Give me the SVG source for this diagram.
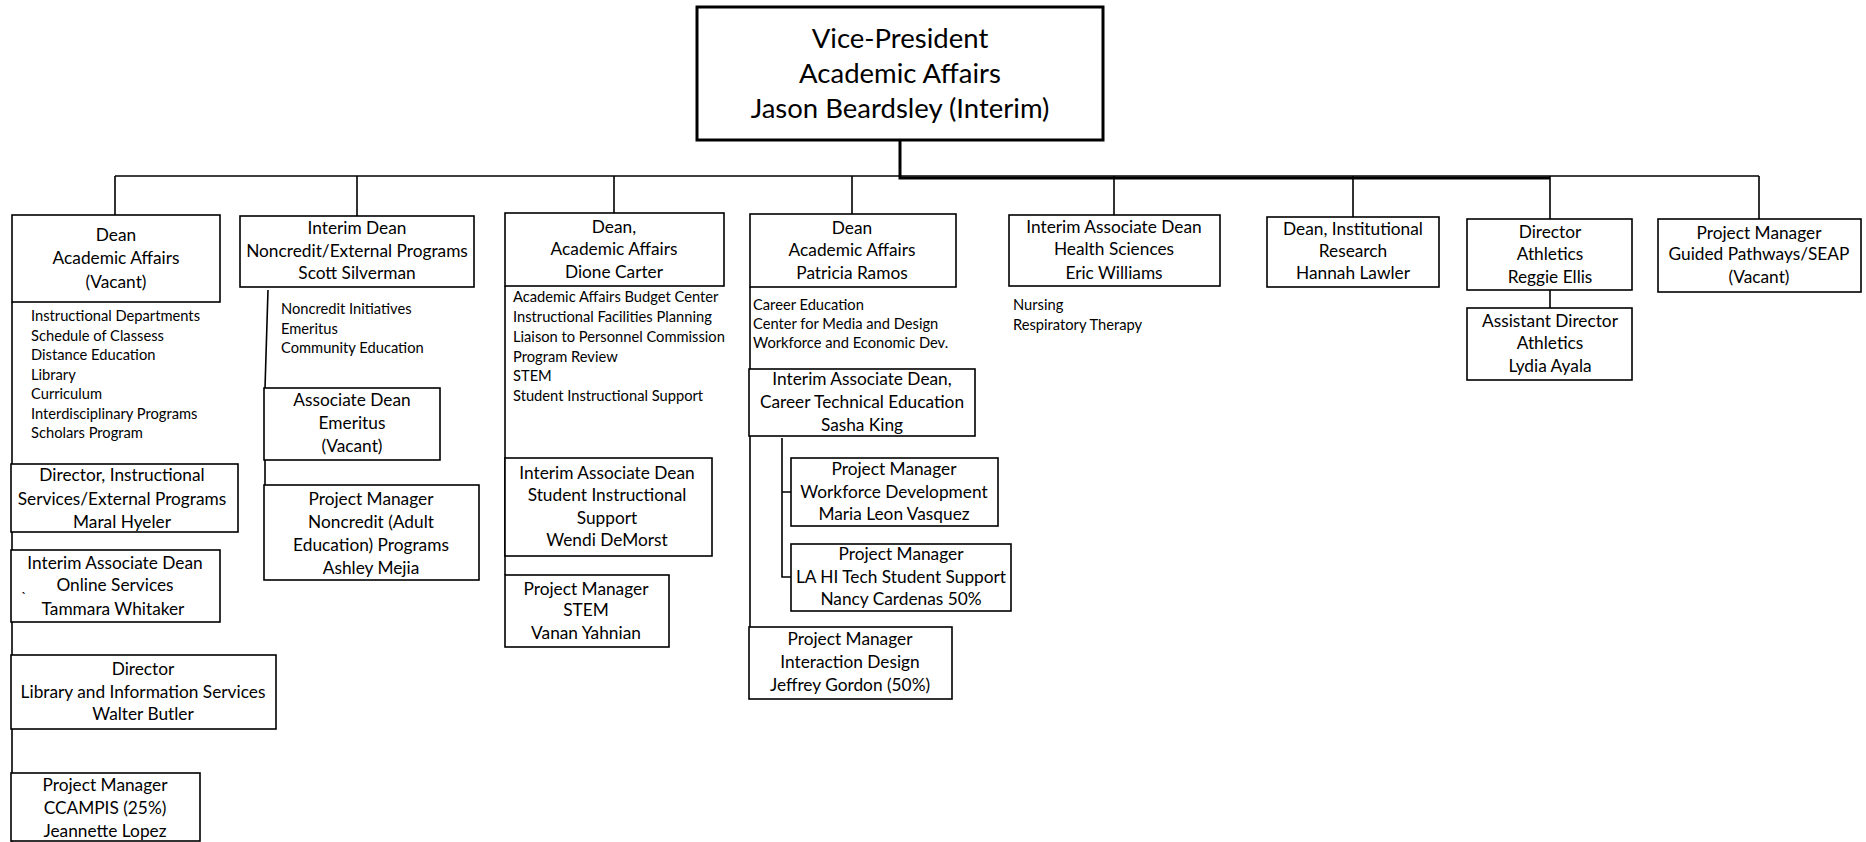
<svg xmlns="http://www.w3.org/2000/svg" width="1866" height="842" viewBox="0 0 1866 842">
<style>
.bx{fill:#fff;stroke:#000;stroke-width:1.6}
.vp{fill:#fff;stroke:#000;stroke-width:3}
.ln{stroke:#000;stroke-width:1.6;fill:none}
.tk{stroke:#000;stroke-width:3;fill:none}
text{font-family:Lato,"Open Sans","Liberation Sans",sans-serif;fill:#000}
.t{font-size:17.3px;text-anchor:middle}
.v{font-size:27.5px;text-anchor:middle}
.b{font-size:14.7px;text-anchor:start}
</style>
<rect width="1866" height="842" fill="#fff"/>
<g id="connectors">
<path class="ln" d="M115,176H1759"/>
<path class="tk" d="M900,140V178H1550"/>
<path class="ln" d="M115,176V215M357,176V216M614,176V213M852,176V214M1114,176V215M1353,176V217M1550,176V219M1759,176V219"/>
<path class="ln" d="M12,302V842"/>
<path class="ln" d="M268,290L265,388V485"/>
<path class="ln" d="M505,286V575"/>
<path class="ln" d="M750,287V627"/>
<path class="ln" d="M782,438V577H791M782,492H791"/>
<path class="ln" d="M1550,290V308"/>
</g>
<g id="vp"><rect class="vp" x="697" y="7" width="406" height="133"/>
<text class="v" x="900" y="48">Vice-President</text><text class="v" x="900" y="83">Academic Affairs</text><text class="v" x="900" y="118">Jason Beardsley (Interim)</text></g>
<g id="dean-aa-vacant"><rect class="bx" x="12" y="215" width="208" height="87"/>
<text class="t" x="116" y="241">Dean</text><text class="t" x="116" y="264">Academic Affairs</text><text class="t" x="116" y="287.5">(Vacant)</text>
<text class="b" x="31" y="321">Instructional Departments</text><text class="b" x="31" y="341">Schedule of Classess</text><text class="b" x="31" y="360">Distance Education</text><text class="b" x="31" y="380">Library</text><text class="b" x="31" y="399">Curriculum</text><text class="b" x="31" y="419">Interdisciplinary Programs</text><text class="b" x="31" y="438">Scholars Program</text></g>
<g id="dir-instructional"><rect class="bx" x="11" y="464" width="227" height="68"/>
<text class="t" x="122" y="481">Director, Instructional</text><text class="t" x="122" y="504.5">Services/External Programs</text><text class="t" x="122" y="527.5">Maral Hyeler</text></g>
<g id="online"><rect class="bx" x="11" y="550" width="209" height="72"/>
<text class="t" x="115" y="569">Interim Associate Dean</text><text class="t" x="115" y="591">Online Services</text><text class="t" x="113" y="614.5">Tammara Whitaker</text><text class="b" x="21" y="603">`</text></g>
<g id="library"><rect class="bx" x="11" y="655" width="265" height="74"/>
<text class="t" x="143" y="675">Director</text><text class="t" x="143" y="698">Library and Information Services</text><text class="t" x="143" y="720">Walter Butler</text></g>
<g id="ccampis"><rect class="bx" x="11" y="773" width="189" height="68"/>
<text class="t" x="105" y="791">Project Manager</text><text class="t" x="105" y="814">CCAMPIS (25%)</text><text class="t" x="105" y="837">Jeannette Lopez</text></g>
<g id="noncredit"><rect class="bx" x="240" y="216" width="234" height="71"/>
<text class="t" x="357" y="234">Interim Dean</text><text class="t" x="357" y="257">Noncredit/External Programs</text><text class="t" x="357" y="279">Scott Silverman</text>
<text class="b" x="281" y="314">Noncredit Initiatives</text><text class="b" x="281" y="334">Emeritus</text><text class="b" x="281" y="353">Community Education</text></g>
<g id="assoc-emeritus"><rect class="bx" x="264" y="388" width="176" height="72"/>
<text class="t" x="352" y="406">Associate Dean</text><text class="t" x="352" y="429">Emeritus</text><text class="t" x="352" y="452">(Vacant)</text></g>
<g id="pm-noncredit"><rect class="bx" x="264" y="485" width="215" height="95"/>
<text class="t" x="371" y="504.5">Project Manager</text><text class="t" x="371" y="527.5">Noncredit (Adult</text><text class="t" x="371" y="550.5">Education) Programs</text><text class="t" x="371" y="573.5">Ashley Mejia</text></g>
<g id="dione"><rect class="bx" x="505" y="213" width="219" height="73"/>
<text class="t" x="614" y="233">Dean,</text><text class="t" x="614" y="255">Academic Affairs</text><text class="t" x="614" y="278">Dione Carter</text>
<text class="b" x="513" y="302">Academic Affairs Budget Center</text><text class="b" x="513" y="322">Instructional Facilities Planning</text><text class="b" x="513" y="342">Liaison to Personnel Commission</text><text class="b" x="513" y="362">Program Review</text><text class="b" x="513" y="381">STEM</text><text class="b" x="513" y="401">Student Instructional Support</text></g>
<g id="sis"><rect class="bx" x="505" y="458" width="207" height="98"/>
<text class="t" x="607" y="479">Interim Associate Dean</text><text class="t" x="607" y="501">Student Instructional</text><text class="t" x="607" y="524">Support</text><text class="t" x="607" y="546">Wendi DeMorst</text></g>
<g id="pm-stem"><rect class="bx" x="505" y="575" width="164" height="72"/>
<text class="t" x="586" y="595">Project Manager</text><text class="t" x="586" y="616">STEM</text><text class="t" x="586" y="639">Vanan Yahnian</text></g>
<g id="patricia"><rect class="bx" x="750" y="214" width="206" height="73"/>
<text class="t" x="852" y="234">Dean</text><text class="t" x="852" y="256">Academic Affairs</text><text class="t" x="852" y="279">Patricia Ramos</text>
<text class="b" x="753" y="310">Career Education</text><text class="b" x="753" y="329">Center for Media and Design</text><text class="b" x="753" y="348">Workforce and Economic Dev.</text></g>
<g id="sasha"><rect class="bx" x="749" y="369" width="226" height="67"/>
<text class="t" x="862" y="385">Interim Associate Dean,</text><text class="t" x="862" y="408">Career Technical Education</text><text class="t" x="862" y="431">Sasha King</text></g>
<g id="pm-workforce"><rect class="bx" x="791" y="458" width="207" height="68"/>
<text class="t" x="894" y="475">Project Manager</text><text class="t" x="894" y="498">Workforce Development</text><text class="t" x="894" y="520">Maria Leon Vasquez</text></g>
<g id="pm-lahitech"><rect class="bx" x="791" y="544" width="220" height="67"/>
<text class="t" x="901" y="560">Project Manager</text><text class="t" x="901" y="583">LA HI Tech Student Support</text><text class="t" x="901" y="605">Nancy Cardenas 50%</text></g>
<g id="pm-interaction"><rect class="bx" x="749" y="627" width="203" height="72"/>
<text class="t" x="850" y="645">Project Manager</text><text class="t" x="850" y="668">Interaction Design</text><text class="t" x="850" y="691">Jeffrey Gordon (50%)</text></g>
<g id="health"><rect class="bx" x="1009" y="215" width="211" height="71"/>
<text class="t" x="1114" y="233">Interim Associate Dean</text><text class="t" x="1114" y="255">Health Sciences</text><text class="t" x="1114" y="279">Eric Williams</text>
<text class="b" x="1013" y="310">Nursing</text><text class="b" x="1013" y="330">Respiratory Therapy</text></g>
<g id="research"><rect class="bx" x="1267" y="217" width="172" height="70"/>
<text class="t" x="1353" y="235">Dean, Institutional</text><text class="t" x="1353" y="257">Research</text><text class="t" x="1353" y="279">Hannah Lawler</text></g>
<g id="athletics"><rect class="bx" x="1467" y="219" width="165" height="71"/>
<text class="t" x="1550" y="238">Director</text><text class="t" x="1550" y="260">Athletics</text><text class="t" x="1550" y="283">Reggie Ellis</text></g>
<g id="asst-athletics"><rect class="bx" x="1467" y="308" width="165" height="72"/>
<text class="t" x="1550" y="327">Assistant Director</text><text class="t" x="1550" y="349">Athletics</text><text class="t" x="1550" y="372">Lydia Ayala</text></g>
<g id="guided"><rect class="bx" x="1658" y="219" width="203" height="73"/>
<text class="t" x="1759" y="239">Project Manager</text><text class="t" x="1759" y="260">Guided Pathways/SEAP</text><text class="t" x="1759" y="283">(Vacant)</text></g>
</svg>
